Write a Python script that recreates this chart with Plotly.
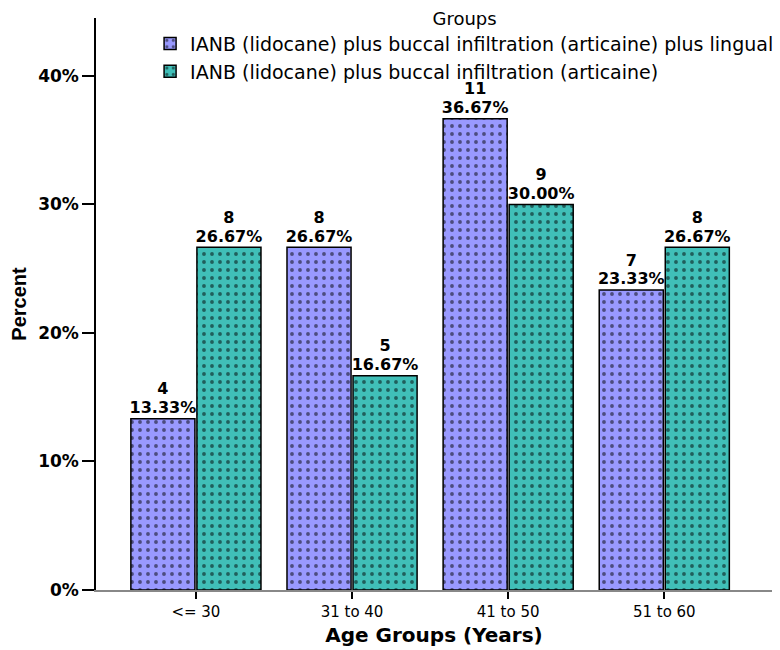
import plotly.graph_objects as go

categories = ["<= 30", "31 to 40", "41 to 50", "51 to 60"]
series_names = [
    "IANB (lidocane) plus buccal infiltration (articaine) plus lingual",
    "IANB (lidocane) plus buccal infiltration (articaine)",
]
pct_a = [13.33, 26.67, 36.67, 23.33]
cnt_a = [4, 8, 11, 7]
pct_b = [26.67, 16.67, 30.00, 26.67]
cnt_b = [8, 5, 9, 8]
colors = ["#9999ff", "#40bfb8"]

BOLD = "DejaVu Sans"
REG = "DejaVu Sans"
label_font = dict(family=BOLD, size=16, color="black", weight="bold")

fig = go.Figure()
for i, (name, pct, col) in enumerate([(series_names[0], pct_a, colors[0]),
                                      (series_names[1], pct_b, colors[1])]):
    fig.add_trace(go.Bar(
        x=categories, y=pct, name=name, offsetgroup=str(i),
        marker=dict(color=col, line=dict(color="black", width=1.5),
                    pattern=dict(shape=".", fgcolor="black", size=8, solidity=0.18)),
    ))

# value labels: percent just above bar, count above percent
for i, (pct, cnt) in enumerate([(pct_a, cnt_a), (pct_b, cnt_b)]):
    fig.add_trace(go.Scatter(
        x=categories, y=pct, mode="markers+text", offsetgroup=str(i),
        text=[f"{p:.2f}%" for p in pct], textposition="top center",
        textfont=label_font, marker=dict(size=1, opacity=0, color="white"),
        showlegend=False, hoverinfo="skip", cliponaxis=False,
    ))
    fig.add_trace(go.Scatter(
        x=categories, y=pct, mode="markers+text", offsetgroup=str(i),
        text=[str(c) for c in cnt], textposition="top center",
        textfont=label_font, marker=dict(size=31, opacity=0, color="white"),
        showlegend=False, hoverinfo="skip", cliponaxis=False,
    ))

fig.update_layout(
    width=780, height=650,
    margin=dict(l=96, r=8, t=18, b=60, autoexpand=False),
    paper_bgcolor="white", plot_bgcolor="white",
    barmode="group", bargap=0.154, bargroupgap=0.03,
    scattermode="group", scattergap=0.154,
    font=dict(family=REG, color="black"),
    showlegend=True,
    legend=dict(
        x=0.08, xanchor="left", yref="container", y=0.998, yanchor="top",
        bgcolor="rgba(0,0,0,0)",
        title=dict(text="Groups", side="top center", font=dict(size=18, family=REG)),
        font=dict(size=19, family=REG), tracegroupgap=0, itemwidth=30,
    ),
    xaxis=dict(
        range=[-0.64, 3.69], showline=True, linecolor="#888888", linewidth=1.5,
        ticks="outside", ticklen=7, tickcolor="black", tickwidth=2,
        tickfont=dict(size=15, family=REG), showgrid=False, automargin=False,
        title=dict(text="Age Groups (Years)", font=dict(size=20, family=BOLD, weight="bold"), standoff=8),
    ),
    yaxis=dict(
        range=[0, 44.5], tickvals=[0, 10, 20, 30, 40],
        ticktext=["0%", "10%", "20%", "30%", "40%"],
        showline=True, linecolor="black", linewidth=1.5,
        ticks="outside", ticklen=12, tickcolor="black", tickwidth=2,
        tickfont=dict(size=17, family=BOLD, weight="bold"), showgrid=False, zeroline=False,
        automargin=False,
        title=dict(text="Percent", font=dict(size=20, family="Liberation Sans", weight="bold"), standoff=6),
    ),
)

fig.write_html("out.html", config={"displayModeBar": False},
               post_script="document.body.style.margin='0';")
